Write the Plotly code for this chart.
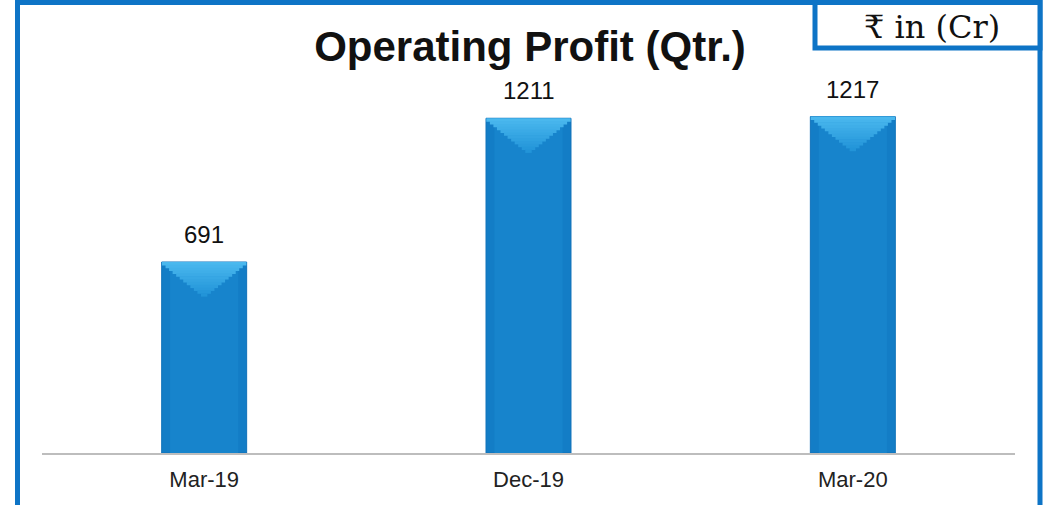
import plotly.graph_objects as go

categories = ["Mar-19", "Dec-19", "Mar-20"]
values = [691, 1211, 1217]
title_text = "Operating Profit (Qtr.)"
unit_text = "₹ in (Cr)"

W, H = 1044, 505
L, R, T, B = 42, 29, 93, 52
plot_w = W - L - R
plot_h = H - T - B
px_per_unit = 191 / 691.0
y_max = plot_h / px_per_unit
u = 1 / px_per_unit  # data units per pixel

def px_x(px):
    return (px - L) / plot_w

def px_y(py):
    return (H - B - py) / plot_h

BLUE = "#0E74C6"
BAR_W = 0.262

fig = go.Figure()

def bevel_step(width, top_px, height_px, color):
    fig.add_trace(go.Bar(
        x=categories,
        y=[height_px * u for _ in values],
        base=[v - (top_px + height_px) * u for v in values],
        width=width, marker=dict(color=color, line=dict(width=0)),
        hoverinfo="skip", showlegend=False,
    ))

# main body
fig.add_trace(go.Bar(x=categories, y=values, width=BAR_W,
                     marker=dict(color="#137DC6", line=dict(color="#1172BA", width=1)),
                     hoverinfo="skip", showlegend=False))
# centre highlight
fig.add_trace(go.Bar(x=categories, y=values, width=0.21,
                     marker=dict(color="#1784CC", line=dict(width=0)),
                     hoverinfo="skip", showlegend=False))
# top bevel (triangle approximated by narrowing steps)
steps = 12
depth = 34
light = (0x4A, 0xB8, 0xEE)
dark = (0x22, 0x94, 0xD8)
for i in range(steps):
    t = i / (steps - 1)
    w = BAR_W * (1 - i / steps) - 0.002
    col = "#%02X%02X%02X" % tuple(int(light[k] + (dark[k] - light[k]) * t) for k in range(3))
    bevel_step(w, depth * i / steps, depth / steps + 0.6, col)

for c, v in zip(categories, values):
    fig.add_annotation(x=c, y=v, text=str(v), showarrow=False, yanchor="bottom",
                       yshift=12, font=dict(family="Liberation Sans, Arial", size=24, color="#111"))

fig.update_layout(
    width=W, height=H, barmode="overlay",
    margin=dict(l=L, r=R, t=T, b=B, pad=0),
    paper_bgcolor="white", plot_bgcolor="white",
    title=dict(text="<b>" + title_text + "</b>", x=px_x(530), xref="paper", xanchor="center",
               y=1 - 46 / H, yref="container", yanchor="middle",
               font=dict(family="Liberation Sans, Arial", size=42, color="#111")),
    xaxis=dict(showline=True, linecolor="#BDBDBD", linewidth=2, ticks="outside", ticklen=6,
               tickcolor="rgba(0,0,0,0)", tickfont=dict(family="Liberation Sans, Arial", size=22, color="#222"),
               showgrid=False, fixedrange=True),
    yaxis=dict(range=[0, y_max], visible=False, showgrid=False, fixedrange=True),
    shapes=[
        dict(type="rect", xref="paper", yref="paper", x0=px_x(17.5), x1=px_x(1040), y0=px_y(2.5), y1=px_y(530),
             line=dict(color=BLUE, width=5), fillcolor="rgba(0,0,0,0)", layer="above"),
        dict(type="rect", xref="paper", yref="paper", x0=px_x(815), x1=px_x(1040), y0=px_y(2.5), y1=px_y(48),
             line=dict(color=BLUE, width=5), fillcolor="white", layer="above"),
    ],
)
fig.add_annotation(x=px_x(932), y=px_y(27), xref="paper", yref="paper", text=unit_text, showarrow=False,
                   xanchor="center", yanchor="middle",
                   font=dict(family="DejaVu Serif, Liberation Serif, serif", size=32, color="#111"))

fig.write_html("out.html", config={"displayModeBar": False},
               post_script="document.body.style.margin='0';document.body.style.overflow='hidden';")
